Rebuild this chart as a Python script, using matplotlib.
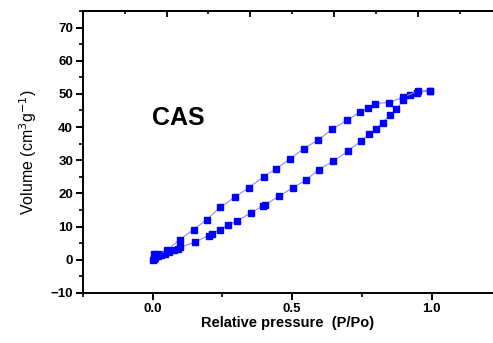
import matplotlib
matplotlib.use("Agg")
import matplotlib.pyplot as plt
from matplotlib.ticker import MultipleLocator, FixedLocator, NullFormatter

plt.rcParams['font.family'] = ['Liberation Sans', 'DejaVu Sans']

# Adsorption branch (lower)
ads_p = [0.0, 0.004, 0.01, 0.02, 0.03, 0.045, 0.06, 0.075, 0.09, 0.10,
         0.153, 0.201, 0.212, 0.242, 0.272, 0.301, 0.353, 0.394, 0.404,
         0.454, 0.502, 0.550, 0.595, 0.648, 0.699, 0.747, 0.777, 0.801,
         0.824, 0.850, 0.874, 0.899, 0.922, 0.946, 0.995]
ads_v = [0.0, 0.3, 0.6, 1.0, 1.3, 1.8, 2.3, 2.8, 3.3, 3.7,
         5.4, 7.3, 7.8, 9.1, 10.6, 11.6, 14.2, 16.2, 16.6,
         19.2, 21.7, 24.0, 27.2, 29.7, 32.7, 35.8, 37.8, 39.5,
         41.3, 43.5, 45.5, 48.1, 49.6, 50.3, 51.0]
# Desorption branch (upper)
des_p = [0.995, 0.950, 0.899, 0.846, 0.796, 0.772, 0.743, 0.695, 0.643,
         0.593, 0.541, 0.494, 0.444, 0.398, 0.344, 0.295, 0.242, 0.194,
         0.147, 0.098, 0.05, 0.02, 0.005]
des_v = [51.0, 50.9, 49.0, 47.4, 47.1, 45.7, 44.5, 42.0, 39.3,
         36.1, 33.5, 30.5, 27.5, 25.0, 21.7, 18.9, 15.8, 12.1,
         9.1, 6.1, 2.8, 1.8, 1.6]

fig = plt.figure(figsize=(4.93, 3.43), dpi=100)
ax = fig.add_axes([0.168, 0.146, 0.832, 0.822])

line_kw = dict(color='#8c8cff', lw=0.8, marker='s', markersize=4.2,
               markerfacecolor='#0000ff', markeredgecolor='#0000ff')
ax.plot(ads_p, ads_v, **line_kw)
ax.plot(des_p, des_v, **line_kw)

ax.set_xlim(-0.25, 1.22)
ax.set_ylim(-10, 75)

ax.xaxis.set_major_locator(MultipleLocator(0.5))
ax.xaxis.set_minor_locator(MultipleLocator(0.25))
ax.yaxis.set_major_locator(MultipleLocator(10))
ax.yaxis.set_minor_locator(MultipleLocator(5))
ax.xaxis.set_major_formatter(matplotlib.ticker.FormatStrFormatter('%.1f'))

for s in ['left', 'bottom', 'top']:
    ax.spines[s].set_linewidth(1.4)
ax.spines['right'].set_visible(False)

ax.tick_params(axis='both', which='major', direction='out', length=5, width=1.4,
               labelsize=9.5, pad=2)
ax.tick_params(axis='both', which='minor', direction='out', length=3, width=1.2)
for lab in ax.get_xticklabels() + ax.get_yticklabels():
    lab.set_fontweight('bold')

# top axis ticks (inward)
top = ax.secondary_xaxis('top')
top.xaxis.set_major_locator(FixedLocator([0.05, 0.35, 0.65, 0.95]))
top.xaxis.set_minor_locator(FixedLocator([-0.1, 0.2, 0.5, 0.8, 1.1]))
top.xaxis.set_major_formatter(NullFormatter())
top.tick_params(which='major', direction='in', length=4, width=1.3)
top.tick_params(which='minor', direction='in', length=2.5, width=1.2)
top.spines['top'].set_linewidth(1.4)

ax.set_xlabel('Relative pressure  (P/Po)', fontsize=10.5, fontweight='bold', labelpad=1)
ax.set_ylabel('Volume (cm$^{3}$g$^{-1}$)', fontsize=11.5, labelpad=8)

ax.text(0.092, 42.8, 'CAS', fontsize=18, fontweight='bold', ha='center', va='center')

fig.savefig('out.png', dpi=100)
